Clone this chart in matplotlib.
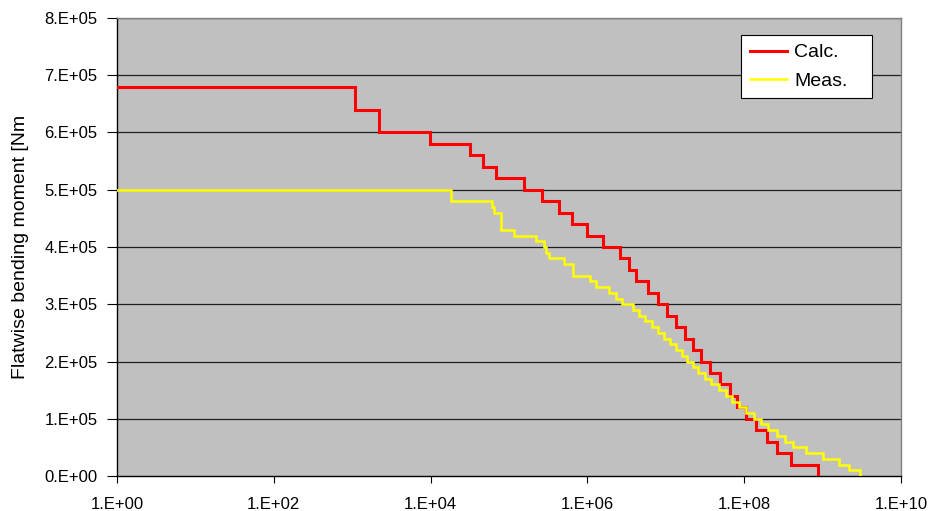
import matplotlib
matplotlib.use("Agg")
import matplotlib.pyplot as plt
from matplotlib.ticker import FixedLocator, FuncFormatter, NullLocator
import numpy as np

# Calc. step curve: cycle count where each level starts, and bending moment level [Nm]
calc_cycles = [1, 1.1e3, 2.2e3, 9.8e3, 3.2e4, 4.7e4, 6.8e4, 1.55e5, 2.6e5, 4.4e5,
               6.3e5, 9.8e5, 1.6e6, 2.6e6, 3.4e6, 4.2e6, 5.9e6, 7.9e6, 1.05e7, 1.35e7,
               1.74e7, 2.24e7, 2.8e7, 3.7e7, 4.9e7, 6.5e7, 8.1e7, 1.05e8, 1.4e8, 1.95e8,
               2.6e8, 3.9e8, 8.7e8]
calc_moment = [6.8e5, 6.4e5, 6.0e5, 5.8e5, 5.6e5, 5.4e5, 5.2e5, 5.0e5, 4.8e5, 4.6e5,
               4.4e5, 4.2e5, 4.0e5, 3.8e5, 3.6e5, 3.4e5, 3.2e5, 3.0e5, 2.8e5, 2.6e5,
               2.4e5, 2.2e5, 2.0e5, 1.8e5, 1.6e5, 1.4e5, 1.2e5, 1.0e5, 0.8e5, 0.6e5,
               0.4e5, 0.2e5, 0.0]

# Meas. step curve
meas_cycles = [1, 1.8e4, 6.0e4, 6.5e4, 7.9e4, 1.17e5, 2.2e5, 2.8e5, 3.0e5, 3.2e5,
               5.1e5, 6.6e5, 1.07e6, 1.3e6, 1.86e6, 2.3e6, 2.75e6, 3.8e6, 4.6e6, 5.5e6,
               6.6e6, 7.9e6, 9.6e6, 1.12e7, 1.35e7, 1.6e7, 1.86e7, 2.24e7, 2.6e7, 3.2e7,
               3.8e7, 4.8e7, 5.8e7, 6.9e7, 8.5e7, 1.05e8, 1.35e8, 1.66e8, 2.0e8, 2.6e8,
               3.3e8, 4.2e8, 6.2e8, 1.02e9, 1.6e9, 2.2e9, 3.0e9]
meas_moment = [5.0e5, 4.8e5, 4.7e5, 4.6e5, 4.3e5, 4.2e5, 4.1e5, 4.0e5, 3.9e5, 3.8e5,
               3.7e5, 3.5e5, 3.4e5, 3.3e5, 3.2e5, 3.1e5, 3.0e5, 2.9e5, 2.8e5, 2.7e5,
               2.6e5, 2.5e5, 2.4e5, 2.3e5, 2.2e5, 2.1e5, 2.0e5, 1.9e5, 1.8e5, 1.7e5,
               1.6e5, 1.5e5, 1.4e5, 1.3e5, 1.2e5, 1.1e5, 1.0e5, 0.9e5, 0.8e5, 0.7e5,
               0.6e5, 0.5e5, 0.4e5, 0.3e5, 0.2e5, 0.1e5, 0.0]

x_ticks = [1e0, 1e2, 1e4, 1e6, 1e8, 1e10]
y_ticks = [0, 1e5, 2e5, 3e5, 4e5, 5e5, 6e5, 7e5, 8e5]

plt.rcParams['font.family'] = ['Liberation Sans', 'DejaVu Sans']

fig = plt.figure(figsize=(9.34, 5.11), dpi=100)
ax = fig.add_axes([117/934, 1 - 476/511, (901-117)/934, (476-18)/511])
ax.set_facecolor('#C0C0C0')

ax.set_xscale('log')
ax.set_xlim(1, 1e10)
ax.set_ylim(0, 8e5)

for y in y_ticks[1:]:
    ax.axhline(y, color='#202020', lw=0.9, zorder=1)

ax.plot(calc_cycles, calc_moment, drawstyle='steps-post', color='#FF0000', lw=2.2,
        label='Calc.', zorder=3, solid_joinstyle='miter')
ax.plot(meas_cycles, meas_moment, drawstyle='steps-post', color='#FFFF00', lw=1.8,
        label='Meas.', zorder=4, solid_joinstyle='miter')

ax.xaxis.set_major_locator(FixedLocator(x_ticks))
ax.xaxis.set_minor_locator(NullLocator())
ax.xaxis.set_major_formatter(FuncFormatter(lambda v, p: "1.E+%02d" % int(round(np.log10(v)))))
ax.yaxis.set_major_locator(FixedLocator(y_ticks))
ax.yaxis.set_major_formatter(FuncFormatter(lambda v, p: "%d.E+%s" % (round(v/1e5), "00" if v == 0 else "05")))
ax.tick_params(axis='both', direction='out', width=0.8, labelsize=12, color='black')
ax.tick_params(axis='x', length=5, pad=10)
ax.tick_params(axis='y', length=7, pad=7)

for s in ['left', 'bottom']:
    ax.spines[s].set_color('black')
    ax.spines[s].set_linewidth(1.0)
for s in ['top', 'right']:
    ax.spines[s].set_color('#808080')
    ax.spines[s].set_linewidth(1.0)

fig.text(21/934, 1 - 247/511, 'Flatwise bending moment [Nm', rotation=90,
         ha='center', va='center', fontsize=14)

lx0 = (741 - 117) / 784
lw_ = (872 - 741) / 784
ltop = 1 - (35 - 18) / 458
leg = ax.legend(loc='upper left', bbox_to_anchor=(lx0, ltop - 0.2, lw_, 0.2), mode='expand',
                frameon=True, fancybox=False, fontsize=14, handlelength=1.9,
                handletextpad=0.4, labelspacing=0.55, borderpad=0.45, borderaxespad=0)
leg.get_frame().set_edgecolor('black')
leg.get_frame().set_linewidth(0.8)
leg.get_frame().set_facecolor('white')
leg.get_frame().set_alpha(1)

fig.savefig('out.png', dpi=100)
